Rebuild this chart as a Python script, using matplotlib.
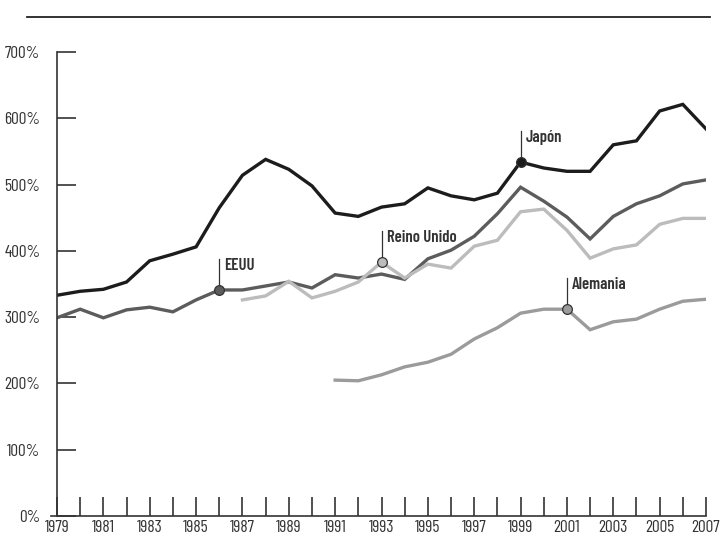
import matplotlib
matplotlib.use("Agg")
import matplotlib.pyplot as plt

years = list(range(1979, 2008))

japon = [333, 339, 342, 353, 385, 395, 406, 465, 514, 538, 523, 498, 457, 452,
         466, 471, 495, 483, 477, 487, 534, 525, 520, 520, 560, 566, 611, 621, 584]
eeuu = [299, 312, 299, 311, 315, 308, 326, 341, 341, 347, 353, 344, 364, 359,
        365, 357, 388, 401, 422, 456, 496, 475, 451, 418, 452, 471, 483, 501, 507]
uk_years = list(range(1987, 2008))
reino_unido = [326, 332, 354, 329, 339, 353, 383, 359, 380, 374, 407, 416, 459,
               463, 431, 389, 403, 409, 440, 449, 449]
de_years = list(range(1991, 2008))
alemania = [205, 204, 213, 225, 232, 244, 267, 284, 306, 312, 312, 281, 293,
            297, 312, 324, 327]

# (name, years, values, year marked, colour)
series = [
    ("EEUU", years, eeuu, 1986, "#5c5c5c"),
    ("Reino Unido", uk_years, reino_unido, 1993, "#bcbcbc"),
    ("Alemania", de_years, alemania, 2001, "#9b9b9b"),
    ("Japón", years, japon, 1999, "#1c1c1c"),
]

plt.rcParams["font.family"] = ["Barlow Condensed", "DejaVu Sans"]

fig = plt.figure(figsize=(7.2, 5.41), dpi=100)
ax = fig.add_axes([57 / 720, 25 / 541, 649 / 720, 464 / 541])

for name, xs, ys, mark, col in series:
    ax.plot(xs, ys, color=col, lw=2.4, solid_joinstyle="miter", zorder=2)
    v = ys[xs.index(mark)]
    ax.plot([mark, mark], [v, v + 47], color="#333333", lw=0.9, zorder=3)
    ax.plot(mark, v, "o", ms=7, mfc=col, mec="#333333", mew=0.9, zorder=4)
    ax.text(mark + 0.22, v + 48, name, fontsize=12, fontweight="semibold",
            color="#333333", va="top", ha="left")

ax.set_xlim(1979, 2007)
ax.set_ylim(0, 700)
ax.set_xticks(years)
ax.set_xticklabels([str(y) if (y - 1979) % 2 == 0 else "" for y in years])
ax.set_yticks(range(0, 701, 100))
ax.set_yticklabels([f"{v}%" for v in range(0, 701, 100)])
for s in ["top", "right"]:
    ax.spines[s].set_visible(False)
for s in ["left", "bottom"]:
    ax.spines[s].set_color("#333333")
    ax.spines[s].set_linewidth(1.2)
ax.tick_params(axis="both", direction="in", length=14, width=1.2,
               color="#333333", labelsize=12.5, labelcolor="#333333")
ax.tick_params(axis="y", pad=12)
ax.tick_params(axis="x", pad=3)
# short stub of the base line left of the axis
ax.plot([1978.75, 1979], [0, 0], color="#333333", lw=1.2, clip_on=False)

# rule along the top
fig.add_artist(plt.Line2D([27 / 720, 710 / 720], [1 - 17 / 541, 1 - 17 / 541],
                          color="#222222", lw=1.3))

fig.savefig("out.png", dpi=100)
